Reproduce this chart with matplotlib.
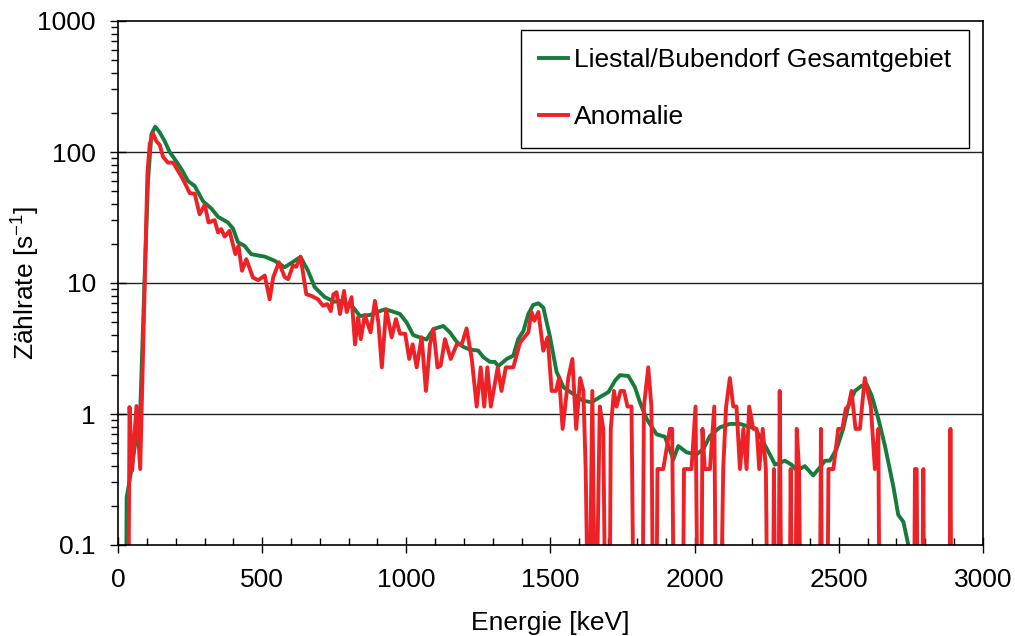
import matplotlib
matplotlib.use("Agg")
import matplotlib.pyplot as plt
import numpy as np
from matplotlib.ticker import FixedLocator, FuncFormatter, NullFormatter

# Liestal/Bubendorf Gesamtgebiet (smooth mean spectrum)
energie_gesamt = [27, 30, 46, 60, 69, 78, 92, 104, 116, 129, 144, 162, 179, 197, 220,
                  243, 266, 295, 324, 347, 381, 399, 416, 439, 462, 509, 543, 578, 607,
                  633, 659, 682, 717, 751, 770, 816, 839, 874, 908, 926, 943, 978, 1001,
                  1024, 1053, 1070, 1094, 1128, 1151, 1175, 1198, 1221, 1249, 1267, 1290,
                  1307, 1319, 1348, 1371, 1388, 1406, 1423, 1440, 1458, 1475, 1498, 1521,
                  1545, 1579, 1614, 1643, 1672, 1701, 1724, 1741, 1770, 1793, 1810, 1833,
                  1868, 1897, 1926, 1943, 1972, 2006, 2030, 2053, 2087, 2122, 2157, 2180,
                  2209, 2238, 2261, 2279, 2313, 2336, 2354, 2382, 2411, 2434, 2452, 2469,
                  2492, 2515, 2533, 2556, 2579, 2596, 2614, 2637, 2660, 2689, 2706, 2724,
                  2741, 2755]
rate_gesamt = [0, 0.23, 0.37, 0.6, 0.74, 1.2, 10.4, 60, 137, 156, 142, 121, 100, 88, 74,
               60, 55, 42, 37, 32, 29, 26, 20.5, 19.2, 16.6, 15.9, 14.8, 13.2, 14.5,
               15.8, 12.4, 9.3, 7.8, 7.2, 7.3, 6.5, 5.6, 5.7, 6.1, 6.3, 6.15, 5.8, 5.0,
               4.0, 3.8, 3.7, 4.45, 4.7, 4.2, 3.55, 3.25, 3.1, 3.05, 2.72, 2.5,
               2.5, 2.32, 2.63, 2.79, 3.73, 4.3, 5.8, 6.8, 7.0, 6.5, 3.9, 2.1,
               1.6, 1.42, 1.26, 1.23, 1.35, 1.47, 1.8, 1.98, 1.95, 1.6, 1.23, 0.92,
               0.70, 0.67, 0.45, 0.57, 0.51, 0.49, 0.54, 0.68, 0.79, 0.84, 0.84, 0.81,
               0.78, 0.61, 0.49, 0.41, 0.44, 0.41, 0.37, 0.40, 0.34, 0.39, 0.44, 0.44,
               0.54, 0.77, 1.16, 1.5, 1.64, 1.69, 1.38, 0.92, 0.57, 0.28, 0.17, 0.15,
               0.1, 0.07]

# Anomalie (noisy spectrum, zero counts in many channels)
energie_anomalie = [35, 40, 49, 64, 77, 90, 102, 110, 121, 133, 145, 156, 173, 191, 208,
                    225, 237, 249, 266, 283, 301, 314, 335, 347, 358, 370, 387, 407, 418,
                    430, 445, 468, 486, 509, 526, 538, 558, 578, 590, 607, 618, 633, 653,
                    670, 694, 711, 726, 738, 747, 758, 770, 784, 793, 810, 822, 833, 842,
                    856, 876, 891, 903, 915, 930, 949, 964, 978, 996, 1010, 1022, 1036,
                    1053, 1068, 1082, 1094, 1108, 1119, 1134, 1154, 1175, 1192, 1209, 1227,
                    1244, 1258, 1270, 1281, 1293, 1317, 1330, 1345, 1371, 1394, 1423, 1434,
                    1444, 1458, 1475, 1490, 1504, 1519, 1530, 1542, 1562, 1576, 1589, 1603,
                    1614, 1622, 1633, 1645, 1656, 1671, 1683, 1692, 1704, 1709, 1720, 1729,
                    1743, 1755, 1767, 1781, 1790, 1818, 1824, 1839, 1850, 1857, 1866, 1871,
                    1891, 1914, 1922, 1929, 1958, 1963, 1989, 2003, 2012, 2022, 2027, 2035,
                    2053, 2068, 2075, 2088, 2099, 2109, 2122, 2134, 2145, 2157, 2169, 2180,
                    2189, 2203, 2215, 2224, 2236, 2247, 2254, 2270, 2275, 2281, 2290, 2295,
                    2302, 2328, 2333, 2339, 2348, 2354, 2362, 2369, 2433, 2438, 2443, 2459,
                    2464, 2481, 2498, 2512, 2524, 2533, 2544, 2558, 2573, 2590, 2611, 2625,
                    2637, 2642, 2760, 2764, 2770, 2774, 2788, 2793, 2797, 2883, 2887, 2891]
rate_anomalie = [0, 1.13, 0.37, 1.15, 0.38, 5.8, 68, 115, 139, 121, 113, 92, 83, 83, 72,
                 62, 55, 48.5, 48, 33.5, 39.5, 29, 30.2, 24.3, 25.8, 22.6, 25, 16.6, 19.2,
                 12.4, 15.2, 11.0, 10.5, 11.4, 7.5, 11.0, 14.4, 11.1, 10.7, 13.6, 13.3, 15.9, 8.2,
                 8.0, 7.5, 6.7, 6.9, 6.1, 8.2, 8.5, 5.8, 8.7, 6.0, 7.8, 3.4, 5.5, 3.73,
                 5.7, 4.2, 7.3, 5.0, 2.27, 6.3, 3.85, 5.3, 4.1, 4.1, 2.63, 3.4, 2.27,
                 3.85, 1.5, 3.4, 4.45, 2.27, 2.34, 3.73, 2.63, 3.4, 3.4, 4.5, 2.63,
                 1.14, 2.27, 1.14, 2.27, 1.14, 2.27, 1.5, 2.27, 2.27, 3.5, 4.2, 6.0,
                 5.15, 6.0, 3.04, 3.85, 1.5, 1.5, 1.9, 0.77, 1.9, 2.63, 0.77, 1.88,
                 1.5, 0.38, 0, 1.5, 0, 1.14, 0.77, 0, 0, 0.77, 1.5, 1.14,
                 1.5, 1.5, 1.14, 1.14, 0, 0, 1.14, 2.27, 1.14, 0, 0, 0.38,
                 0.38, 0.77, 0.77, 0, 0, 0.38, 0.38, 1.14, 0, 0, 0.77, 0.38,
                 0.38, 1.14, 0, 0, 0.38, 1.14, 1.88, 1.14, 1.14, 0.38, 0.77, 0.38,
                 1.14, 0.77, 0.77, 0.38, 0.77, 0.38, 0, 0, 0.38, 0, 0, 1.5,
                 0, 0, 0.38, 0, 0, 0.77, 0.38, 0, 0, 0.77, 0, 0,
                 0.38, 0.38, 0.77, 0.77, 1.1, 1.14, 1.5, 0.77, 0.77, 1.88, 1.14, 0.38,
                 0.77, 0, 0, 0.38, 0.38, 0, 0, 0.38, 0, 0, 0.77, 0]

x_ticks = [0, 500, 1000, 1500, 2000, 2500, 3000]
y_ticks = [0.1, 1, 10, 100, 1000]

plt.rcParams['font.family'] = ['Liberation Sans', 'DejaVu Sans']
plt.rcParams['font.size'] = 19
plt.rcParams['mathtext.fontset'] = 'custom'
plt.rcParams['mathtext.rm'] = 'Liberation Sans'
plt.rcParams['mathtext.default'] = 'regular'

# zero counts cannot be shown on a log axis -> push them below the bottom edge
floor = 0.01
g = np.array(rate_gesamt, dtype=float)
a = np.array(rate_anomalie, dtype=float)
g = np.where(g > 0, g, floor)
a = np.where(a > 0, a, floor)

fig = plt.figure(figsize=(10.15, 6.36), dpi=100)
ax = fig.add_axes([118/1015, 1-545/636, 865/1015, 524/636])

ax.plot(energie_gesamt, g, color='#177c3b', lw=2.8, label='Liestal/Bubendorf Gesamtgebiet',
        solid_joinstyle='round')
ax.plot(energie_anomalie, a, color='#ee2226', lw=2.8, label='Anomalie', solid_joinstyle='round')

ax.set_yscale('log')
ax.set_xlim(0, 3000)
ax.set_ylim(0.1, 1000)

ax.xaxis.set_major_locator(FixedLocator(x_ticks))
ax.xaxis.set_minor_locator(FixedLocator(np.arange(100, 3000, 100)))
ax.yaxis.set_major_locator(FixedLocator(y_ticks))
ax.yaxis.set_major_formatter(FuncFormatter(lambda v, p: '%g' % v))
ax.yaxis.set_minor_formatter(NullFormatter())

ax.tick_params(axis='x', which='major', direction='inout', length=11, width=1, pad=11)
ax.tick_params(axis='x', which='minor', direction='in', length=5, width=1)
ax.tick_params(axis='y', which='major', direction='inout', length=12, width=1, pad=10)
ax.tick_params(axis='y', which='minor', direction='out', length=5, width=1)

for v in [1, 10, 100]:
    ax.axhline(v, color='#222222', lw=1, zorder=0)

for s in ax.spines.values():
    s.set_linewidth(1.2)
    s.set_color('black')

ax.set_xlabel('Energie [keV]', labelpad=14)
ax.set_ylabel('Zählrate [s$^{-1}$]')
ax.yaxis.set_label_coords(-0.088, 0.5)

leg = ax.legend(loc='upper right', bbox_to_anchor=(0.984, 0.983), borderaxespad=0,
                fancybox=False, edgecolor='black', framealpha=1, handlelength=1.1,
                handletextpad=0.2, labelspacing=1.25, borderpad=0.7, fontsize=19)
leg.get_frame().set_linewidth(1.0)

fig.savefig('out.png', dpi=100)
